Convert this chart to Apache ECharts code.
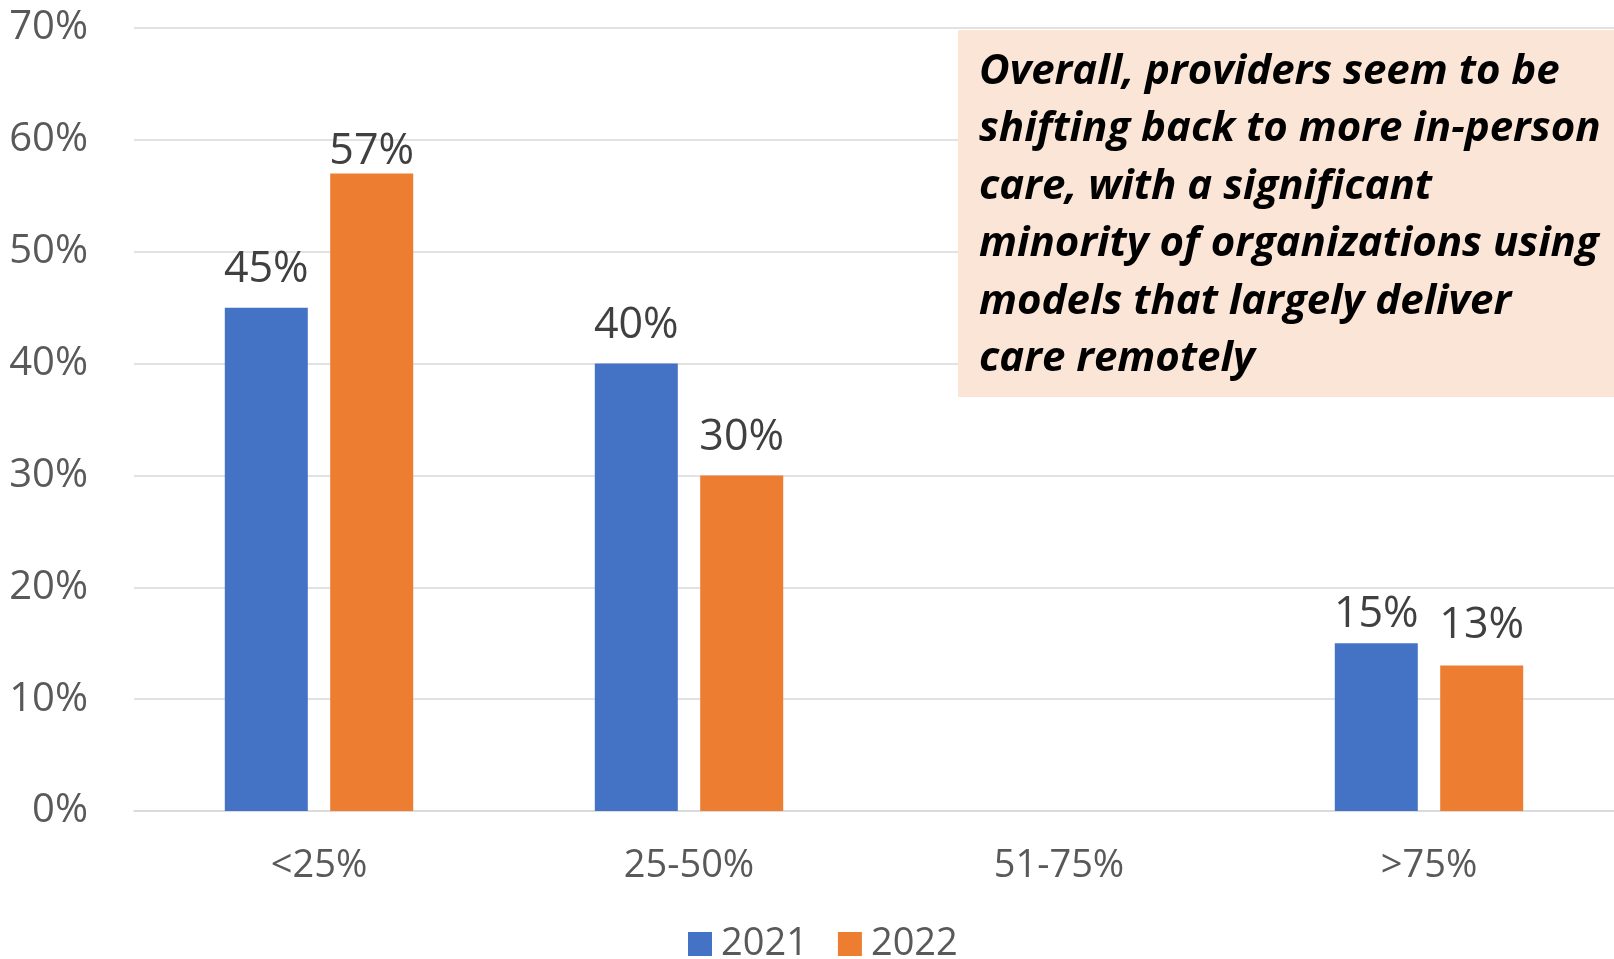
<!DOCTYPE html>
<html>
<head>
<meta charset="utf-8">
<script src="https://cdn.jsdelivr.net/npm/echarts@6/dist/echarts.min.js"></script>
<style>html,body{margin:0;padding:0;background:#fff;}#c{width:1614px;height:959px;}</style>
</head>
<body>
<div id="c"></div>
<script>
const categories = ['<25%', '25-50%', '51-75%', '>75%'];
const seriesNames = ['2021', '2022'];
const values2021 = [45, 40, null, 15];
const values2022 = [57, 30, null, 13];
const yTicks = [0, 10, 20, 30, 40, 50, 60, 70];
const noteLines = [
  'Overall, providers seem to be',
  'shifting back to more in-person',
  'care, with a significant',
  'minority of organizations using',
  'models that largely deliver',
  'care remotely'
];

const chart = echarts.init(document.getElementById('c'));
const font = '"Open Sans", "DejaVu Sans", sans-serif';
// label offsets above bars (styling only)
const labelGap2021 = [16, 16, 16, 7];
const labelGap2022 = [0, 16, 16, 18];
function items(vals, gaps) {
  return vals.map((v, i) => ({ value: v, label: { distance: gaps[i] } }));
}
const lbl = {
  show: true, position: 'top',
  formatter: p => p.value == null ? '' : p.value + '%',
  fontFamily: font, fontSize: 43, color: '#404040'
};
chart.setOption({
  animation: false,
  backgroundColor: '#ffffff',
  grid: { left: 134, right: 0, top: 28, bottom: 148, containLabel: false },
  legend: {
    data: seriesNames, left: 683, top: 920, itemWidth: 24, itemHeight: 24, itemGap: 30,
    icon: 'rect',
    textStyle: { fontFamily: font, fontSize: 38, color: '#595959', padding: [0, 0, 0, 4] }
  },
  xAxis: {
    type: 'category', data: categories,
    axisLine: { show: true, lineStyle: { color: '#D9D9D9', width: 1.5 } },
    axisTick: { show: false },
    axisLabel: { fontFamily: font, fontSize: 38, color: '#595959', margin: 36 }
  },
  yAxis: {
    type: 'value', min: yTicks[0], max: yTicks[yTicks.length - 1], interval: 10,
    axisLine: { show: false }, axisTick: { show: false },
    splitLine: { lineStyle: { color: '#D9D9D9', width: 1.5 } },
    axisLabel: { formatter: v => v + '%', fontFamily: font, fontSize: 40, color: '#595959', margin: 46 }
  },
  series: [
    { name: seriesNames[0], type: 'bar', data: items(values2021, labelGap2021), barWidth: 83, barGap: '27%',
      itemStyle: { color: '#4472C4' }, label: lbl },
    { name: seriesNames[1], type: 'bar', data: items(values2022, labelGap2022), barWidth: 83,
      itemStyle: { color: '#ED7D31' }, label: lbl }
  ],
  graphic: [
    { type: 'rect', left: 958, top: 30, shape: { width: 656, height: 367 }, style: { fill: '#FBE5D6' }, z: 10 },
    { type: 'text', left: 979, top: 43, z: 11,
      style: { text: noteLines.join('\n'), fontFamily: '"Open Sans", sans-serif',
        fontStyle: 'italic', fontWeight: 'bold', fontSize: 42, lineHeight: 57.5, fill: '#000000' } }
  ]
});
</script>
</body>
</html>
